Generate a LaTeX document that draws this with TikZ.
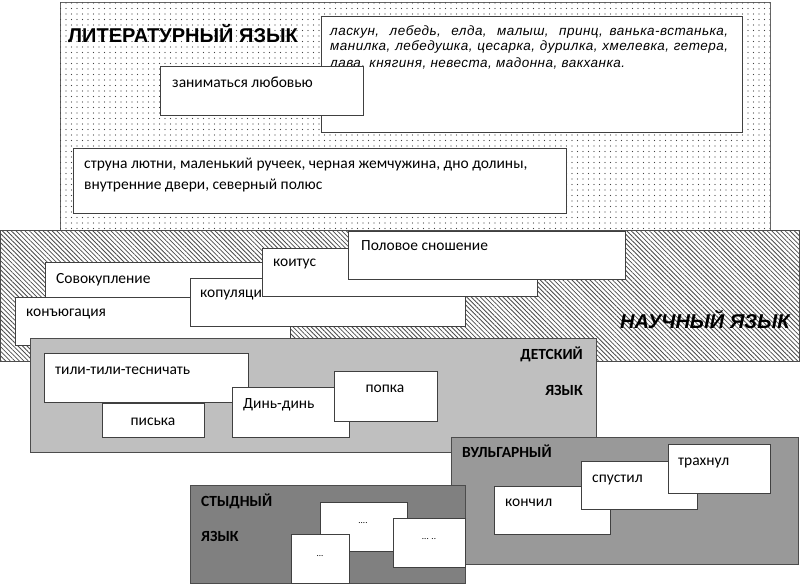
\documentclass[tikz,border=0pt]{standalone}
\usepackage{fontspec}
\setmainfont{Carlito}
\newfontfamily\arialfont{Liberation Sans}
\newfontfamily\poetfont[LetterSpace=3.5]{Liberation Sans}
\usetikzlibrary{patterns.meta}

\tikzset{
  wbox/.style={draw=black!75, line width=1pt, fill=white},
  lbl/.style={anchor=base west, inner sep=0pt, font=\fontsize{15.5}{18}\selectfont},
  clbl/.style={anchor=base, inner sep=0pt, font=\fontsize{15.5}{18}\selectfont},
  caplbl/.style={anchor=base west, inner sep=0pt, font=\fontsize{15.5}{18}\selectfont\bfseries},
  title/.style={anchor=base west, inner sep=0pt, font=\fontsize{20}{22}\selectfont\arialfont\bfseries},
  poetline/.style={anchor=base west, inner sep=0pt, font=\fontsize{13.5}{16}\selectfont\poetfont\itshape},
  dotted field/.style={draw=black!60, line width=1pt, fill=white,
    postaction={pattern={Dots[distance=5.5pt, radius=0.7pt]}, pattern color=black!75}},
  hatched field/.style={draw=black!70, line width=1pt, fill=white,
    postaction={pattern={Lines[angle=-45, distance=3.2pt, line width=0.8pt]}, pattern color=black!70}},
}

\begin{document}
\begin{tikzpicture}[x=1pt, y=-1pt]
			%%%%% START %%%%%
			\useasboundingbox (0, 0) rectangle (800, 586);
			
			% literary
			\draw[dotted field] (60, 3) rectangle (770, 232);
			\node[title] (lit) at (68, 43) {ЛИТЕРАТУРНЫЙ ЯЗЫК};
			\draw[wbox] (321, 17) rectangle (742, 132);
			\node[poetline] (poet1) at (330, 36) {\makebox[398pt][s]{ласкун, лебедь, елда, малыш, принц,\enspace ванька-встанька,}};
			\node[poetline] (poet2) at (330, 51) {\makebox[398pt][s]{манилка, лебедушка, цесарка, дурилка, хмелевка, гетера,}};
			\node[poetline] (poet3) at (330, 67) {лава, княгиня, невеста, мадонна, вакханка.};
			\draw[wbox] (160, 67) rectangle (363, 115);
			\node[lbl] (love) at (172, 87) {заниматься любовью};
			\draw[wbox] (73, 148) rectangle (566, 213);
			\node[lbl] (lute) at (84, 168) {струна лютни, маленький ручеек, черная жемчужина, дно долины,};
			\node[lbl] (door) at (84, 189) {внутренние двери, северный полюс};
			
			% scientific
			\draw[hatched field] (0, 230) rectangle (799, 361);
			\draw[wbox] (45, 262) rectangle (300, 310);
			\node[lbl] (sov) at (56, 283) {Совокупление};
			\draw[wbox] (15, 297) rectangle (290, 345);
			\node[lbl] (konj) at (26, 316) {конъюгация};
			\draw[wbox] (190, 278) rectangle (465, 326);
			\node[lbl] (kop) at (200, 297) {копуляция};
			\draw[wbox] (262, 248) rectangle (537, 296);
			\node[lbl] (koit) at (273, 266) {коитус};
			\draw[wbox] (348, 231) rectangle (625, 279);
			\node[lbl] (pol) at (361, 250) {Половое сношение};
			\node[title, font=\fontsize{20}{22}\selectfont\arialfont\bfseries\itshape] (sci) at (620, 328) {НАУЧНЫЙ ЯЗЫК};
			
			% children
			\draw[draw=black!70, line width=1pt, fill=black!25] (30, 338) rectangle (596, 452);
			\node[caplbl, anchor=base east] (det1) at (583, 359) {ДЕТСКИЙ};
			\node[caplbl, anchor=base east] (det2) at (583, 395) {ЯЗЫК};
			\draw[wbox] (44, 353) rectangle (248, 402);
			\node[lbl] (tili) at (55, 374) {тили-тили-тесничать};
			\draw[wbox] (102, 403) rectangle (204, 437);
			\node[clbl] (pis) at (153, 425) {писька};
			\draw[wbox] (232, 387) rectangle (349, 437);
			\node[lbl] (din) at (243, 408) {Динь-динь};
			\draw[wbox] (334, 371) rectangle (437, 421);
			\node[clbl] (pop) at (385, 392) {попка};
			
			% vulgar
			\draw[draw=black!70, line width=1pt, fill=black!40] (451, 437) rectangle (798, 564);
			\node[caplbl] (vul) at (462, 457) {ВУЛЬГАРНЫЙ};
			\draw[wbox] (494, 486) rectangle (610, 534);
			\node[lbl] (kon) at (505, 506) {кончил};
			\draw[wbox] (581, 461) rectangle (697, 509);
			\node[lbl] (spu) at (592, 482) {спустил};
			\draw[wbox] (668, 444) rectangle (770, 493);
			\node[lbl] (tra) at (678, 465) {трахнул};
			
			% shameful
			\draw[draw=black!70, line width=1pt, fill=black!50] (190, 485) rectangle (465, 583);
			\node[caplbl] (sty1) at (201, 506) {СТЫДНЫЙ};
			\node[caplbl] (sty2) at (201, 541) {ЯЗЫК};
			\draw[wbox] (320, 502) rectangle (407, 551);
			\node[clbl, font=\fontsize{9}{10}\selectfont] (d4) at (363, 523) {....};
			\draw[wbox] (291, 534) rectangle (349, 583);
			\node[clbl, font=\fontsize{9}{10}\selectfont] (d3) at (320, 556) {...};
			\draw[wbox] (393, 518) rectangle (465, 567);
			\node[clbl, font=\fontsize{9}{10}\selectfont] (d5) at (429, 539) {... ..};
			
			%%%%% END %%%%%
\end{tikzpicture}
\end{document}
